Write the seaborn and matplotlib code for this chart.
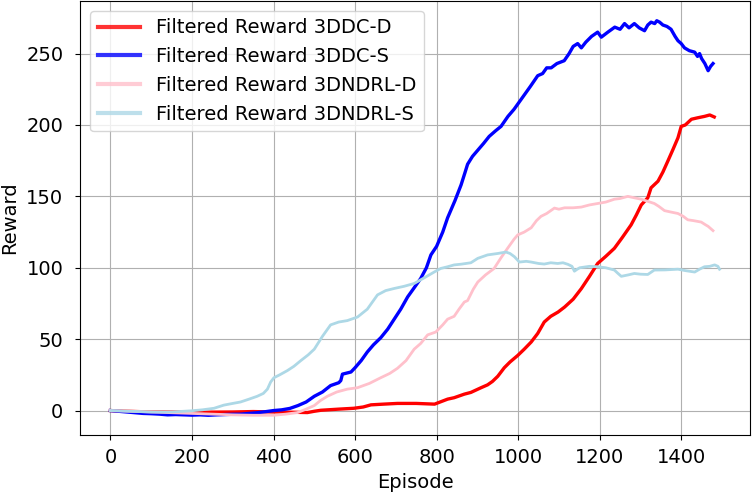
import matplotlib
matplotlib.use("Agg")
import matplotlib.pyplot as plt
import seaborn as sns
import pandas as pd

# 3DDC-S (blue)
ep_ddc_s = [0, 20, 40, 60, 80, 100, 120, 140, 160, 180, 200, 220, 240, 260, 280, 300, 320, 340, 360, 380,
            400, 420, 440, 460, 480, 500, 520, 540, 560, 565, 569, 590, 600, 615, 630, 645, 663, 680, 696, 712,
            729, 745, 761, 775, 786, 800, 815, 827, 845, 860, 870, 876, 888, 900, 915, 929, 945, 958, 975, 990,
            1000, 1015, 1030, 1048, 1060, 1070, 1081, 1095, 1113, 1125, 1135, 1146, 1155, 1166, 1180, 1195, 1204,
            1220, 1237, 1250, 1261, 1272, 1285, 1297, 1310, 1318, 1326, 1335, 1340, 1347, 1355, 1365, 1375, 1385,
            1392, 1400, 1408, 1420, 1433, 1440, 1445, 1450, 1458, 1466, 1472, 1478]
val_ddc_s = [0, -0.5, -1, -1.5, -2, -2.2, -2.5, -3, -2.8, -3, -3.2, -3, -3.3, -3, -2.8, -2.6, -2.5, -2, -1.5, -0.8,
             0, 0.5, 1.5, 3.5, 6, 10, 13, 17.5, 19.5, 21, 25.5, 27, 30, 35, 41, 46, 51, 57, 64, 71,
             79.6, 86, 92.5, 100, 109, 115, 125, 135, 147, 158, 167, 172.5, 178, 182, 187, 192, 196, 199, 206, 211,
             215, 221, 227, 234.5, 236, 240, 240, 243, 245, 250, 255, 257, 254, 258, 262, 265, 261.5,
             265, 268.5, 267, 271, 268, 271, 268, 266, 270, 272, 271, 273, 272, 270, 269, 267, 262,
             259, 257, 254, 252, 251, 248, 250, 246.5, 243, 238, 241, 243]

# 3DDC-D (red)
ep_ddc_d = [0, 40, 100, 200, 300, 350, 400, 450, 483, 500, 516, 560, 597, 620, 639, 670, 704, 750, 795,
            827, 843, 868, 884, 909, 925, 937, 950, 966, 980, 999, 1015, 1032, 1048, 1064, 1080, 1098, 1114,
            1135, 1155, 1175, 1195, 1215, 1236, 1255, 1277, 1290, 1302, 1318, 1326, 1343, 1355, 1367, 1380,
            1392, 1400, 1410, 1425, 1440, 1457, 1470, 1481]
val_ddc_d = [0, -0.5, -1, -1.2, -1, -0.7, -1, -1.2, -1.4, -0.5, 0.2, 1, 1.6, 2.5, 4, 4.5, 5, 5, 4.5,
             8, 9, 11.5, 12.7, 16, 18, 20.4, 24, 30, 34, 38.6, 43, 48, 54, 62, 66, 69, 72.5,
             78, 85.4, 94, 103, 108, 113.6, 121, 130, 137, 144, 149, 156, 160.6, 167, 174.6, 183,
             191, 199, 200, 204, 205, 206, 207, 205.6]

# 3DNDRL-D (pink)
ep_ndrl_d = [0, 50, 100, 150, 200, 250, 300, 350, 400, 430, 459, 480, 500, 515, 532, 555, 581, 606, 635,
             663, 685, 704, 725, 745, 761, 778, 798, 815, 827, 843, 855, 868, 876, 890, 901, 920, 941, 958,
             974, 990, 999, 1015, 1032, 1045, 1056, 1070, 1089, 1100, 1114, 1135, 1155, 1175, 1195, 1215,
             1236, 1250, 1269, 1285, 1302, 1318, 1334, 1345, 1359, 1375, 1392, 1405, 1416, 1430, 1449, 1460,
             1466, 1478]
val_ndrl_d = [0, -0.5, -1, -1.5, -2, -2.5, -3, -3.3, -3.3, -2.5, -1.4, 1, 3.5, 7, 10, 13, 15, 16, 19,
              23, 26, 29.6, 35, 43, 47, 53, 55, 60, 64, 66, 71, 76, 77, 85, 90, 95, 99.5, 107,
              113.6, 120, 123, 125, 128, 133, 136, 138, 141.8, 141, 142, 142, 142.5, 144, 145, 146,
              148, 148.5, 150, 149, 148, 146.5, 145, 143, 140, 139, 138, 136, 133.6, 133, 132, 130,
              129, 126]

# 3DNDRL-S (light blue)
ep_ndrl_s = [0, 50, 100, 150, 197, 225, 254, 278, 300, 319, 340, 360, 375, 385, 393, 401, 415, 434, 450,
             467, 485, 500, 520, 540, 560, 581, 606, 630, 645, 655, 675, 696, 720, 745, 770, 794, 810, 827,
             843, 860, 884, 901, 925, 950, 970, 980, 991, 1003, 1020, 1032, 1050, 1064, 1080, 1097, 1110,
             1122, 1132, 1138, 1145, 1151, 1175, 1195, 1215, 1236, 1245, 1253, 1270, 1285, 1300, 1318, 1334,
             1360, 1392, 1410, 1433, 1445, 1457, 1470, 1482, 1490, 1494]
val_ndrl_s = [0, -0.5, -1, -1, -0.2, 0.5, 1.6, 3.8, 5, 6, 8, 10, 12, 15, 20, 23, 25, 28, 31,
              35, 39, 43, 52, 60, 62, 63, 65.5, 71, 77, 81, 84, 85.5, 87, 89, 93, 97, 99.5, 100.7,
              102, 102.5, 103.5, 106.6, 109, 110, 111, 110, 107.7, 104, 104.5, 104, 103, 102.6, 103.5, 103, 103.5,
              102.4, 101, 97.6, 99, 100, 101, 100.7, 100, 98.4, 96, 94, 95, 96, 95.5, 95.3, 98.4,
              98.5, 99, 98, 97, 99, 100.7, 101, 102, 101, 99]

labels = ["Filtered Reward 3DDC-D", "Filtered Reward 3DDC-S",
          "Filtered Reward 3DNDRL-D", "Filtered Reward 3DNDRL-S"]

fig, ax = plt.subplots(figsize=(7.52, 4.96), dpi=100)
fig.subplots_adjust(left=80/752, right=750/752, bottom=61/496, top=0.998)

series = [
    (ep_ddc_d, val_ddc_d, "red", 2.4),
    (ep_ddc_s, val_ddc_s, "blue", 2.4),
    (ep_ndrl_d, val_ndrl_d, "pink", 2.0),
    (ep_ndrl_s, val_ndrl_s, "lightblue", 2.0),
]
for (xs, ys, col, lw), lab in zip(series, labels):
    df = pd.DataFrame({"Episode": xs, "Reward": ys})
    sns.lineplot(data=df, x="Episode", y="Reward", ax=ax, color=col, linewidth=lw,
                 label=lab, estimator=None, sort=False)

ax.grid(True)
ax.set_xticks([0, 200, 400, 600, 800, 1000, 1200, 1400])
ax.set_yticks([0, 50, 100, 150, 200, 250])
ax.tick_params(labelsize=14)
ax.tick_params(axis="x", pad=6)
ax.tick_params(axis="y", pad=8.5)
ax.set_xlabel("Episode", fontsize=14, labelpad=4)
ax.set_ylabel("Reward", fontsize=14, labelpad=5)
leg = ax.legend(loc="upper left", fontsize=14, handlelength=2.2)
for h in leg.get_lines():
    h.set_alpha(0.8)
    h.set_linewidth(3)
fig.savefig("out.png", dpi=100)
